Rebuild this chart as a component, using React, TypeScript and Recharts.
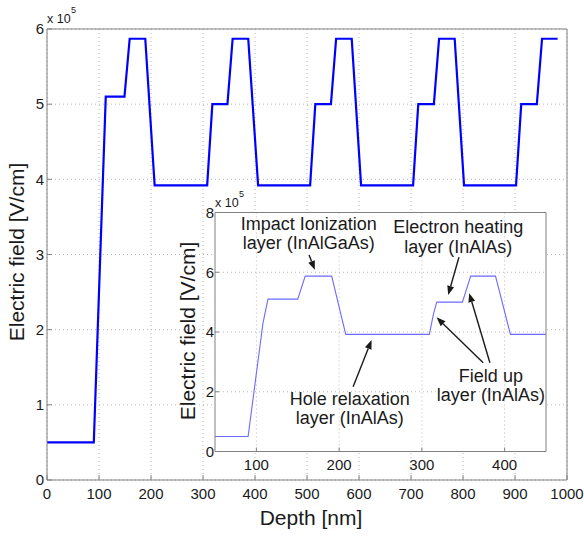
import React from "react";
import {
  LineChart,
  Line,
  XAxis,
  YAxis,
  CartesianGrid,
  ReferenceLine,
  ReferenceDot,
} from "recharts";

// main plot: depth [nm] vs field [x 1e5 V/cm]
const depth = [0, 90, 113, 149, 159, 189, 207, 308, 318, 347, 357, 387, 406, 506, 516, 546, 556, 586, 604, 704, 714, 744, 754, 784, 802, 902, 912, 942, 952, 982];
const field = [0.5, 0.5, 5.1, 5.1, 5.87, 5.87, 3.92, 3.92, 5.0, 5.0, 5.87, 5.87, 3.92, 3.92, 5.0, 5.0, 5.87, 5.87, 3.92, 3.92, 5.0, 5.0, 5.87, 5.87, 3.92, 3.92, 5.0, 5.0, 5.87, 5.87];
const xTicks = [0, 100, 200, 300, 400, 500, 600, 700, 800, 900, 1000];
const yTicks = [0, 1, 2, 3, 4, 5, 6];

// inset: zoom on the first period
const insetDepth = [50, 90, 108, 114, 150, 159, 191, 208, 309, 314, 318, 349, 359, 389, 407, 450];
const insetField = [0.5, 0.5, 4.3, 5.1, 5.1, 5.87, 5.87, 3.92, 3.92, 4.6, 5.0, 5.0, 5.87, 5.87, 3.92, 3.92];
const insetXTicks = [100, 200, 300, 400];
const insetYTicks = [0, 2, 4, 6, 8];

// annotation text lines (inset data coords, baseline)
const noteText = ["Impact Ionization", "layer (InAlGaAs)", "Electron heating", "layer (InAlAs)", "Hole relaxation", "layer (InAlAs)", "Field up", "layer (InAlAs)"];
const noteX = [163.3, 163.3, 343.9, 343.9, 212.9, 212.9, 383.4, 383.4];
const noteY = [7.41, 6.77, 7.31, 6.64, 1.56, 0.92, 2.34, 1.7];

// arrows: tail -> head
const arrowFrom = [[163.7, 6.58], [344.8, 6.5], [216.9, 2.17], [374.1, 2.97], [382.2, 2.97]];
const arrowTo = [[170.6, 6.08], [331.8, 5.24], [239.2, 3.73], [317.8, 4.49], [357.2, 5.3]];

const mainData = depth.map((d, i) => ({ d, v: field[i] }));
const insetData = insetDepth.map((d, i) => ({ d, v: insetField[i] }));

const FONT = "'Liberation Sans', Arial, Helvetica, sans-serif";
const AXIS = "#808080";
const INK = "#1a1a1a";
const tickStyle = { fill: INK, fontSize: 15, fontFamily: FONT };

function Arrow(props: any) {
  const { x1, y1, x2, y2 } = props;
  const ang = Math.atan2(y2 - y1, x2 - x1);
  const len = 9;
  const w = 3.5;
  const bx = x2 - len * Math.cos(ang);
  const by = y2 - len * Math.sin(ang);
  const px = -Math.sin(ang) * w;
  const py = Math.cos(ang) * w;
  return (
    <g>
      <line x1={x1} y1={y1} x2={bx} y2={by} stroke={INK} strokeWidth={1.4} />
      <polygon
        points={`${x2},${y2} ${bx + px},${by + py} ${bx - px},${by - py}`}
        fill={INK}
      />
    </g>
  );
}

function NoteLabel(text: string) {
  return (props: any) => (
    <text
      x={props.cx}
      y={props.cy}
      textAnchor="middle"
      fontSize={18}
      fontFamily={FONT}
      fill={INK}
    >
      {text}
    </text>
  );
}

// "x 10^5" multiplier above the y axis
function TimesTen({ left, top }: { left: number; top: number }) {
  return (
    <>
      <div style={{ position: "absolute", left, top, fontSize: 12.5, lineHeight: 1, whiteSpace: "nowrap", color: INK }}>
        x 10
      </div>
      <div style={{ position: "absolute", left: left + 24, top: top - 7, fontSize: 9, lineHeight: 1, color: INK }}>
        5
      </div>
    </>
  );
}

export default function App() {
  return (
    <div style={{ position: "absolute", left: 0, top: 0, width: 584, height: 538, background: "#fff", fontFamily: FONT }}>
      <LineChart
        width={584}
        height={538}
        data={mainData}
        margin={{ top: 28, right: 16, bottom: 28, left: 17 }}
      >
        <CartesianGrid stroke="#b8b8b8" strokeDasharray="1 3" horizontalValues={yTicks} verticalValues={xTicks} />
        <XAxis
          dataKey="d"
          type="number"
          domain={[0, 1000]}
          ticks={xTicks}
          interval={0}
          height={30}
          tick={tickStyle}
          tickSize={-5}
          tickMargin={13}
          stroke={AXIS}
        />
        <XAxis
          xAxisId="top"
          orientation="top"
          dataKey="d"
          type="number"
          domain={[0, 1000]}
          ticks={xTicks}
          interval={0}
          height={1}
          tick={false}
          tickSize={-5}
          stroke={AXIS}
        />
        <YAxis
          type="number"
          domain={[0, 6]}
          ticks={yTicks}
          interval={0}
          width={30}
          tick={tickStyle}
          tickSize={-5}
          tickMargin={8}
          stroke={AXIS}
        />
        <YAxis
          yAxisId="right"
          orientation="right"
          type="number"
          domain={[0, 6]}
          ticks={yTicks}
          interval={0}
          width={1}
          tick={false}
          tickSize={-5}
          stroke={AXIS}
        />
        <Line
          type="linear"
          dataKey="v"
          stroke="#0000ff"
          strokeWidth={2.2}
          dot={false}
          isAnimationActive={false}
        />
      </LineChart>

      <TimesTen left={47} top={13} />
      <div style={{ position: "absolute", left: 17, top: 252, transform: "translate(-50%, -50%) rotate(-90deg)", fontSize: 21, whiteSpace: "nowrap", color: INK }}>
        Electric field [V/cm]
      </div>
      <div style={{ position: "absolute", left: 311, top: 518, transform: "translate(-50%, -50%)", fontSize: 21, whiteSpace: "nowrap", color: INK }}>
        Depth [nm]
      </div>

      <div style={{ position: "absolute", left: 165, top: 195 }}>
        <LineChart
          width={390}
          height={290}
          data={insetData}
          margin={{ top: 16.5, right: 8, bottom: 13.5, left: 20 }}
        >
          <CartesianGrid
            stroke="#b8b8b8"
            strokeDasharray="1 3"
            fill="#fff"
            fillOpacity={1}
            horizontalValues={insetYTicks}
            verticalValues={insetXTicks}
          />
          <XAxis
            dataKey="d"
            type="number"
            domain={[50, 450]}
            ticks={insetXTicks}
            interval={0}
            height={20}
            tick={tickStyle}
            tickSize={-4}
            tickMargin={12}
            stroke={AXIS}
          />
          <XAxis
            xAxisId="top"
            orientation="top"
            dataKey="d"
            type="number"
            domain={[50, 450]}
            ticks={insetXTicks}
            interval={0}
            height={1}
            tick={false}
            tickSize={-4}
            stroke={AXIS}
          />
          <YAxis
            type="number"
            domain={[0, 8]}
            ticks={insetYTicks}
            interval={0}
            width={30}
            tick={tickStyle}
            tickSize={-4}
            tickMargin={5}
            stroke={AXIS}
          />
          <YAxis
            yAxisId="right"
            orientation="right"
            type="number"
            domain={[0, 8]}
            ticks={insetYTicks}
            interval={0}
            width={1}
            tick={false}
            tickSize={-4}
            stroke={AXIS}
          />
          <Line
            type="linear"
            dataKey="v"
            stroke="#6b6bff"
            strokeWidth={1.1}
            dot={false}
            isAnimationActive={false}
          />
          {arrowFrom.map((f, i) => (
            <ReferenceLine
              key={"a" + i}
              segment={[
                { x: f[0], y: f[1] },
                { x: arrowTo[i][0], y: arrowTo[i][1] },
              ]}
              shape={Arrow}
            />
          ))}
          {noteText.map((t, i) => (
            <ReferenceDot
              key={"n" + i}
              x={noteX[i]}
              y={noteY[i]}
              r={0}
              shape={NoteLabel(t)}
            />
          ))}
        </LineChart>
      </div>

      <TimesTen left={215} top={197} />
      <div style={{ position: "absolute", left: 188, top: 331, transform: "translate(-50%, -50%) rotate(-90deg)", fontSize: 21, whiteSpace: "nowrap", color: INK }}>
        Electric field [V/cm]
      </div>
    </div>
  );
}
